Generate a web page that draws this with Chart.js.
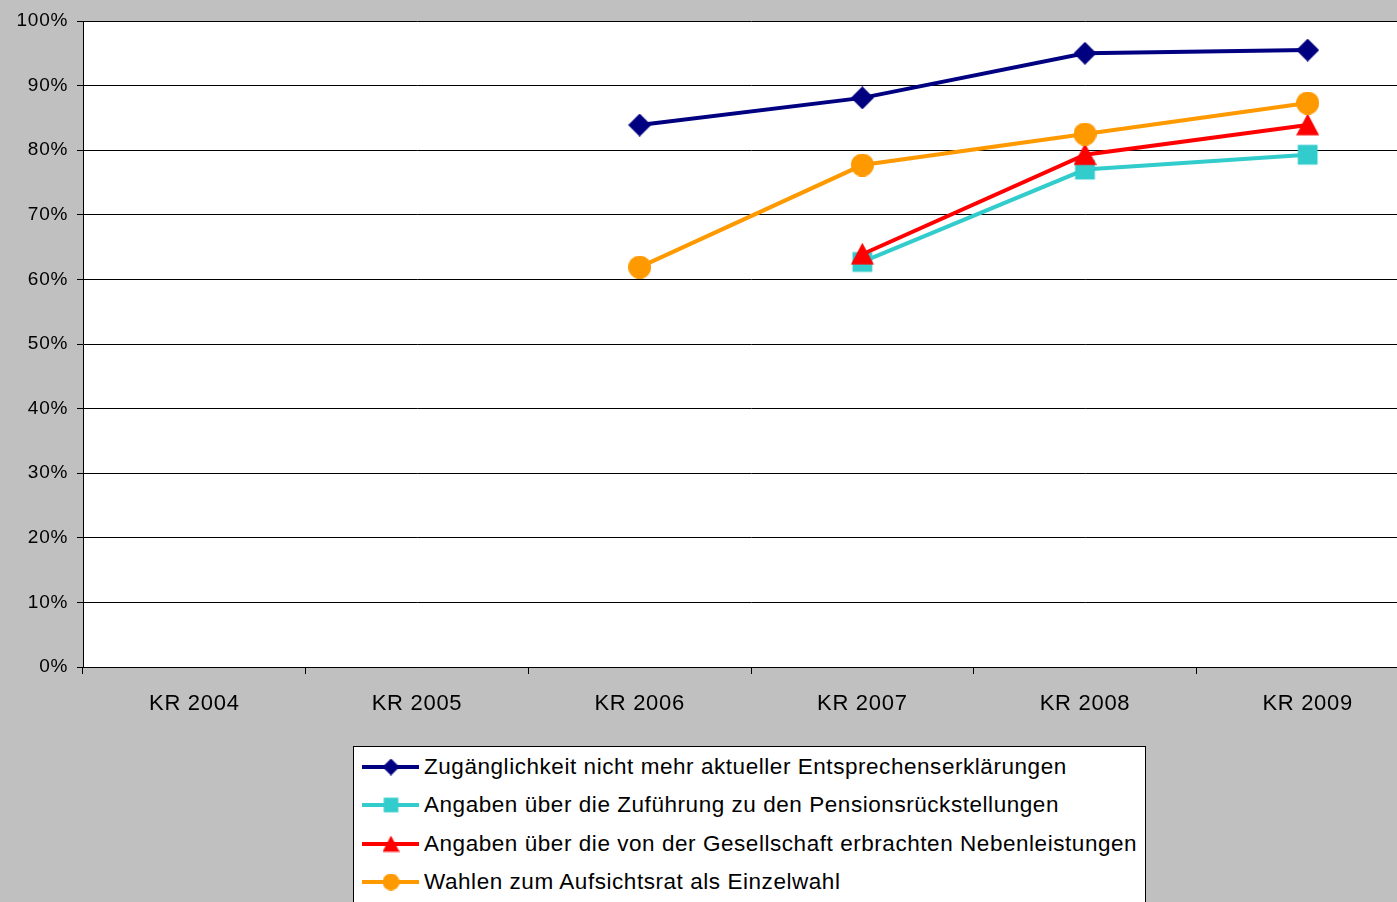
<!DOCTYPE html>
<html>
<head>
<meta charset="utf-8">
<script src="https://cdn.jsdelivr.net/npm/chart.js@4"></script>
<style>
  html, body { margin: 0; padding: 0; background: #c0c0c0; overflow: hidden; }
  #wrap { position: relative; width: 1397px; height: 902px; overflow: hidden; }
  #chart { position: absolute; left: 0; top: 0; }
  #legend {
    position: absolute; left: 353px; top: 746px; width: 793px; height: 170px;
    background: #fff; border: 1px solid #000; box-sizing: border-box;
    font-family: "Liberation Sans", Arial, sans-serif; font-size: 22.5px; letter-spacing: 0.55px; color: #000;
  }
  .item { position: absolute; left: 8px; height: 26px; display: flex; align-items: center; white-space: nowrap; }
  .item canvas { width: 60px; height: 24px; margin-right: 2px; }
</style>
</head>
<body>
<div id="wrap">
  <canvas id="chart" width="1434" height="902"></canvas>
  <div id="legend"></div>
</div>
<script>
const categories = ['KR 2004', 'KR 2005', 'KR 2006', 'KR 2007', 'KR 2008', 'KR 2009'];
const seriesNames = [
  'Zugänglichkeit nicht mehr aktueller Entsprechenserklärungen',
  'Angaben über die Zuführung zu den Pensionsrückstellungen',
  'Angaben über die von der Gesellschaft erbrachten Nebenleistungen',
  'Wahlen zum Aufsichtsrat als Einzelwahl'
];
const zugaenglichkeit = [null, null, 83.9, 88.1, 95.0, 95.5];
const pensionen = [null, null, null, 62.7, 77.0, 79.3];
const nebenleistungen = [null, null, null, 63.9, 79.3, 83.9];
const einzelwahl = [null, null, 61.9, 77.7, 82.5, 87.3];
const colors = ['#000080', '#33cccc', '#ff0000', '#ff9900'];
const shapes = ['diamond', 'square', 'triangle', 'circle'];

// marker images, same look for chart and legend
function marker(shape, color, s) {
  const c = document.createElement('canvas');
  c.width = s; c.height = s;
  const ctx = c.getContext('2d');
  const h = s / 2;
  ctx.fillStyle = color;
  ctx.beginPath();
  if (shape === 'diamond') {
    ctx.moveTo(h, 0); ctx.lineTo(s, h); ctx.lineTo(h, s); ctx.lineTo(0, h);
  } else if (shape === 'square') {
    const q = s * 0.43;
    ctx.rect(h - q, h - q, 2 * q, 2 * q);
  } else if (shape === 'triangle') {
    ctx.moveTo(h, 0); ctx.lineTo(s, s * 0.95); ctx.lineTo(0, s * 0.95);
  } else {
    ctx.arc(h, h, h, 0, Math.PI * 2);
  }
  ctx.closePath();
  ctx.fill();
  return c;
}

const dataSets = [zugaenglichkeit, pensionen, nebenleistungen, einzelwahl];

const plotBg = {
  id: 'plotBg',
  beforeDraw(chart) {
    const a = chart.chartArea, ctx = chart.ctx;
    ctx.letterSpacing = '0.7px';
    ctx.save();
    ctx.fillStyle = '#fff';
    ctx.fillRect(a.left, a.top, a.right - a.left, a.bottom - a.top);
    ctx.restore();
  }
};

const chart = new Chart(document.getElementById('chart'), {
  type: 'line',
  data: {
    labels: categories,
    datasets: dataSets.map((d, i) => ({
      label: seriesNames[i],
      data: d,
      order: dataSets.length - i,
      borderColor: colors[i],
      backgroundColor: colors[i],
      borderWidth: 4,
      tension: 0,
      pointStyle: marker(shapes[i], colors[i], 23),
      pointRadius: 11,
      spanGaps: false
    }))
  },
  options: {
    responsive: false,
    animation: false,
    layout: { padding: { top: 21, bottom: 175, left: 0, right: 0 } },
    plugins: { legend: { display: false }, tooltip: { enabled: false } },
    scales: {
      x: {
        offset: true,
        afterFit: s => { s.height = 60; },
        grid: { offset: true, drawOnChartArea: false, drawTicks: true, tickLength: 7, color: '#000' },
        border: { color: '#000', width: 1 },
        ticks: { color: '#000', padding: 17, font: { family: 'Liberation Sans', size: 22 } }
      },
      y: {
        min: 0, max: 100,
        afterFit: s => { s.width = 83; },
        grid: { color: '#000', tickLength: 6, drawTicks: true },
        border: { color: '#000', width: 1 },
        ticks: { stepSize: 10, color: '#000', padding: 9, callback: v => v + '%',
                 font: { family: 'Liberation Sans', size: 19 } }
      }
    }
  },
  plugins: [plotBg]
});

// legend
const legend = document.getElementById('legend');
const rowTops = [7, 45, 84, 122];
seriesNames.forEach((name, i) => {
  const item = document.createElement('div');
  item.className = 'item';
  item.style.top = rowTops[i] + 'px';
  const ic = document.createElement('canvas');
  ic.width = 60; ic.height = 24;
  const ctx = ic.getContext('2d');
  ctx.strokeStyle = colors[i]; ctx.lineWidth = 4;
  ctx.beginPath(); ctx.moveTo(0, 12); ctx.lineTo(57, 12); ctx.stroke();
  ctx.drawImage(marker(shapes[i], colors[i], 17), 29 - 8.5, 12 - 8.5);
  const span = document.createElement('span');
  span.textContent = name;
  item.appendChild(ic);
  item.appendChild(span);
  legend.appendChild(item);
});
</script>
</body>
</html>
